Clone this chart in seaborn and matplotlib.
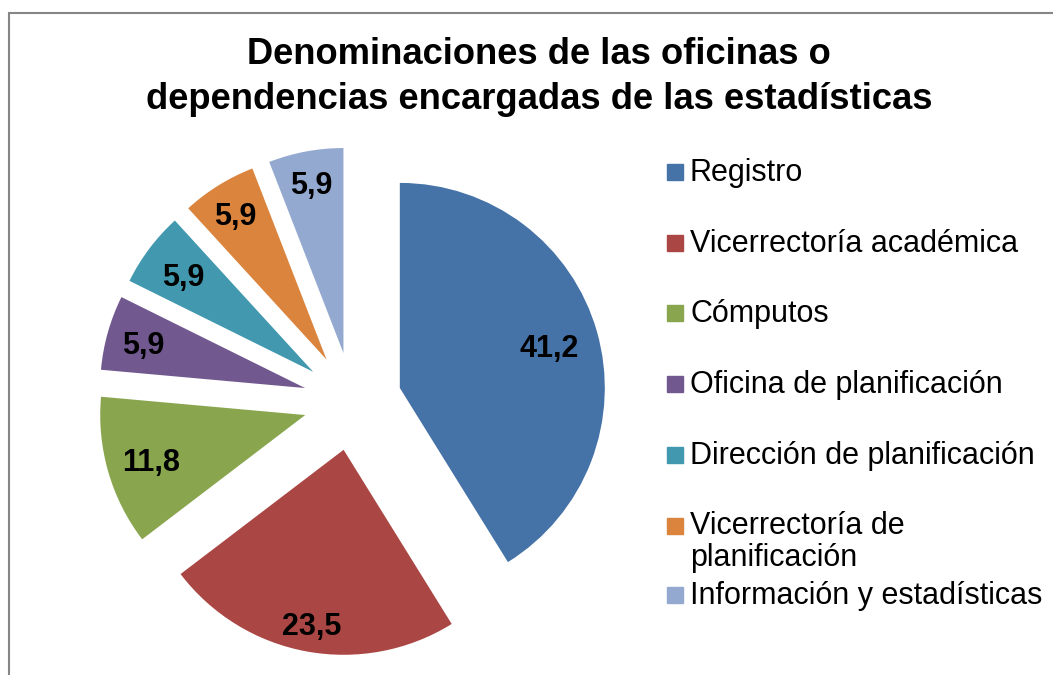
import numpy as np
import matplotlib.pyplot as plt
import matplotlib.patches as mpatches
import seaborn as sns

sns.set_style("white")
plt.rcParams['font.family'] = ['Liberation Sans', 'DejaVu Sans']
plt.rcParams['text.color'] = 'black'

# Datos (porcentajes)
categorias = ['Registro', 'Vicerrectoría académica', 'Cómputos', 'Oficina de planificación',
              'Dirección de planificación', 'Vicerrectoría de\nplanificación', 'Información y estadísticas']
valores = [41.2, 23.5, 11.8, 5.9, 5.9, 5.9, 5.9]
colores = ['#4572A7', '#AA4643', '#89A54E', '#71588F', '#4198AF', '#DB843D', '#93A9CF']
titulo = 'Denominaciones de las oficinas o\ndependencias encargadas de las estadísticas'

W, H = 1053, 675
fig = plt.figure(figsize=(W / 100, H / 100), dpi=100)
ax = fig.add_axes([0, 0, 1, 1])

# centro del pastel y radio en píxeles
cx, cy, R = 352.5, 401.4, 205
explode = 0.24

etiquetas = iter(valores)
wedges, texts, autotexts = ax.pie(
    valores, colors=colores, startangle=90, counterclock=False,
    explode=[explode] * len(valores), pctdistance=0.82,
    autopct=lambda p: f"{next(etiquetas):.1f}".replace('.', ','),
    wedgeprops=dict(linewidth=0),
    textprops=dict(fontsize=22, fontweight='bold', color='black'))

# distancia radial de cada etiqueta (como la "mejor posición" de Excel)
dist_etiquetas = [0.76, 0.86, 0.78, 0.82, 0.79, 0.84, 0.85]
for w, t, f in zip(wedges, autotexts, dist_etiquetas):
    ang = np.deg2rad((w.theta1 + w.theta2) / 2)
    cxw, cyw = w.center
    t.set_position((cxw + f * np.cos(ang), cyw + f * np.sin(ang) - 4 / R))

ax.set_xlim(-cx / R, (W - cx) / R)
ax.set_ylim(-(H - cy) / R, cy / R)
ax.axis('off')

fig.text(539 / W, 1 - 77 / H, titulo, ha='center', va='center',
         fontsize=26.2, fontweight='bold', linespacing=1.36, color='black')

# Leyenda
ley_y = [172, 243, 313, 384, 455, 541, 595]
for lab, col, y in zip(categorias, colores, ley_y):
    first_y = y if '\n' not in lab else y - 15
    fig.patches.append(mpatches.Rectangle((667 / W, 1 - (first_y + 8) / H), 16 / W, 16 / H,
                                          transform=fig.transFigure, color=col))
    fig.text(690 / W, 1 - (y + 1) / H, lab, ha='left', va='center', fontsize=22,
             linespacing=1.07, color='black')

# borde del área del gráfico
fig.patches.append(mpatches.Rectangle((9 / W, -0.05), 1.1, 1 - 13 / H + 0.05,
                                      transform=fig.transFigure, fill=False,
                                      edgecolor='#868686', linewidth=1.5))

fig.savefig('out.png', dpi=100)
